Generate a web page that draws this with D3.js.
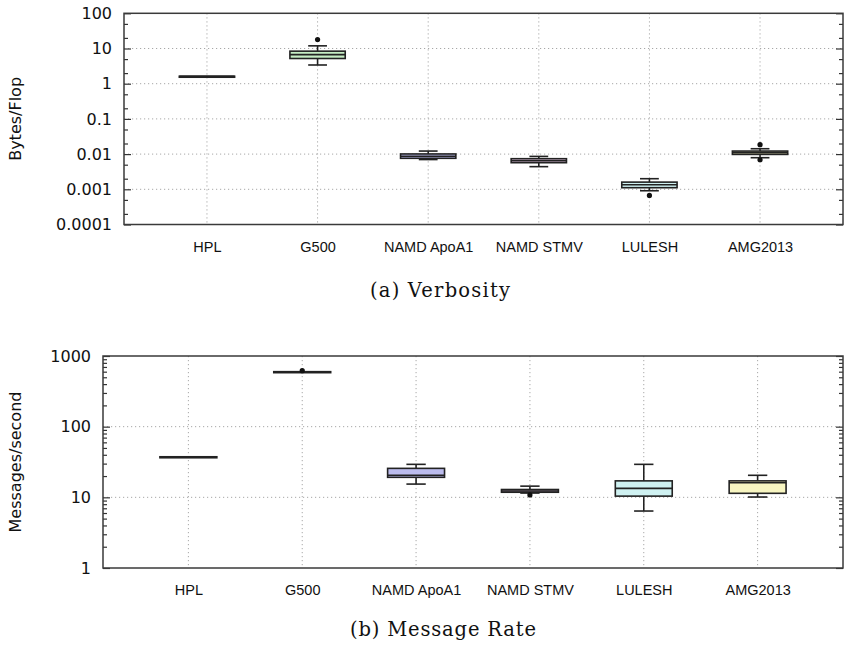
<!DOCTYPE html>
<html lang="en">
<head>
    <meta charset="UTF-8">
    <title>Verbosity and message rate</title>
    <style>
        body { margin: 0; background: #fff; }
        svg { display: block; }
    </style>
</head>
<body>
<div id="chart"></div>
<script src="https://cdn.jsdelivr.net/npm/d3@7"></script>
<script>
    const categories = ["HPL", "G500", "NAMD ApoA1", "NAMD STMV", "LULESH", "AMG2013"];

    // (a) verbosity, bytes per flop
    const verbLow = [1.63, 3.4, 0.0070, 0.0044, 0.00091, 0.0079];
    const verbQ1 = [1.63, 5.2, 0.0076, 0.0057, 0.00111, 0.0098];
    const verbMed = [1.63, 6.7, 0.0087, 0.0065, 0.00135, 0.0110];
    const verbQ3 = [1.63, 8.4, 0.0101, 0.0074, 0.0016, 0.0122];
    const verbHigh = [1.63, 11.9, 0.0122, 0.0086, 0.0020, 0.0142];
    const verbOutliers = [[], [18], [], [], [0.00067], [0.0185, 0.0069]];
    const verbTicks = [0.0001, 0.001, 0.01, 0.1, 1, 10, 100];

    // (b) message rate, messages per second
    const rateLow = [37.5, 600, 15.4, 11.5, 6.4, 10.1];
    const rateQ1 = [37.5, 600, 19.2, 11.8, 10.4, 11.4];
    const rateMed = [37.5, 600, 20.5, 12.3, 13.4, 16.1];
    const rateQ3 = [37.5, 600, 25.7, 12.9, 17.1, 17.1];
    const rateHigh = [37.5, 600, 29.3, 14.4, 29.3, 20.5];
    const rateOutliers = [[], [620], [], [10.8], [], []];
    const rateTicks = [1, 10, 100, 1000];

    const boxColors = ["#ffffff", "#c6edc4", "#bcbcee", "#dfc2df", "#cff1f1", "#f7f5c1"];

    const width = 844, height = 645;

    let svg = d3.select("#chart")
        .append("svg")
        .attr("width", width)
        .attr("height", height)
        .style("background-color", "#fff");

    function panel(p) {
        let x = d3.scaleLinear().domain([0.25, 6.75]).range([p.left, p.right]);
        let y = d3.scaleLog().domain([p.ticks[0], p.ticks[p.ticks.length - 1]]).range([p.bottom, p.top]);
        let g = svg.append("g").classed("panel", true);
        let idx = d3.range(categories.length);

        // minor tick values inside each decade
        let minor = [];
        p.ticks.slice(0, -1).forEach(t => p.minorSteps.forEach(m => minor.push(t * m)));

        // grid
        let grid = g.append("g").classed("grid", true)
            .style("stroke", "#a8a8a8")
            .style("stroke-width", 1)
            .style("stroke-dasharray", "1.2,2.8");
        grid.selectAll("line.h")
            .data(p.ticks.slice(1, -1))
            .join("line")
            .attr("class", "h")
            .attr("x1", p.left).attr("x2", p.right)
            .attr("y1", d => y(d)).attr("y2", d => y(d));
        grid.selectAll("line.v")
            .data(idx)
            .join("line")
            .attr("class", "v")
            .attr("x1", i => x(i + 1)).attr("x2", i => x(i + 1))
            .attr("y1", p.top).attr("y2", p.bottom);

        // axes: major and minor ticks on left and right, pointing inward
        let font = "'DejaVu Sans', sans-serif";
        let left = g.append("g")
            .attr("transform", `translate(${p.left},0)`)
            .call(d3.axisLeft(y).tickValues(p.ticks).tickFormat(d3.format("~g")).tickSize(-7).tickPadding(12));
        left.selectAll("text").style("font-family", font).style("font-size", "16px").style("fill", "#111");
        g.append("g")
            .attr("transform", `translate(${p.left},0)`)
            .call(d3.axisLeft(y).tickValues(minor).tickFormat("").tickSize(-4));
        g.append("g")
            .attr("transform", `translate(${p.right},0)`)
            .call(d3.axisRight(y).tickValues(p.ticks).tickFormat("").tickSize(-7));
        g.append("g")
            .attr("transform", `translate(${p.right},0)`)
            .call(d3.axisRight(y).tickValues(minor).tickFormat("").tickSize(-4));

        let bottom = g.append("g")
            .attr("transform", `translate(0,${p.bottom})`)
            .call(d3.axisBottom(x).tickValues(d3.range(1, 7)).tickFormat(i => categories[i - 1]).tickSize(0).tickPadding(17));
        bottom.selectAll("text")
            .style("font-family", "'Liberation Sans', Arial, sans-serif")
            .style("font-size", "14.5px")
            .style("fill", "#111");
        g.selectAll(".domain").remove();
        g.selectAll(".tick line").style("stroke", "#333").style("stroke-width", 1.2);

        // y axis title
        g.append("text")
            .attr("transform", `translate(${p.titleX},${(p.top + p.bottom) / 2}) rotate(-90)`)
            .attr("text-anchor", "middle")
            .style("font-family", font)
            .style("font-size", "16px")
            .style("fill", "#111")
            .text(p.title);

        // boxes, whiskers and outliers, one group per category index
        let half = 0.25, cap = 0.085;
        let boxes = g.append("g").classed("boxes", true)
            .selectAll("g")
            .data(idx)
            .join("g");

        let upper = boxes.filter(i => p.high[i] > p.q3[i]);
        let lower = boxes.filter(i => p.low[i] < p.q1[i]);
        upper.append("line")
            .attr("x1", i => x(i + 1)).attr("x2", i => x(i + 1))
            .attr("y1", i => y(p.q3[i])).attr("y2", i => y(p.high[i]));
        upper.append("line")
            .attr("x1", i => x(i + 1 - cap)).attr("x2", i => x(i + 1 + cap))
            .attr("y1", i => y(p.high[i])).attr("y2", i => y(p.high[i]));
        lower.append("line")
            .attr("x1", i => x(i + 1)).attr("x2", i => x(i + 1))
            .attr("y1", i => y(p.q1[i])).attr("y2", i => y(p.low[i]));
        lower.append("line")
            .attr("x1", i => x(i + 1 - cap)).attr("x2", i => x(i + 1 + cap))
            .attr("y1", i => y(p.low[i])).attr("y2", i => y(p.low[i]));

        boxes.append("rect")
            .attr("x", i => x(i + 1 - half))
            .attr("width", i => x(i + 1 + half) - x(i + 1 - half))
            .attr("y", i => y(p.q3[i]))
            .attr("height", i => Math.max(1, y(p.q1[i]) - y(p.q3[i])))
            .style("fill", i => boxColors[i]);
        boxes.append("line")
            .attr("x1", i => x(i + 1 - half)).attr("x2", i => x(i + 1 + half))
            .attr("y1", i => y(p.med[i])).attr("y2", i => y(p.med[i]));
        boxes.selectAll("line, rect")
            .style("stroke", "#222")
            .style("stroke-width", 1.6);

        boxes.selectAll("circle")
            .data(i => p.outliers[i].map(v => ({i: i, v: v})))
            .join("circle")
            .attr("cx", d => x(d.i + 1))
            .attr("cy", d => y(d.v))
            .attr("r", 2.6)
            .style("fill", "#111");

        // frame
        g.append("rect")
            .attr("x", p.left).attr("y", p.top)
            .attr("width", p.right - p.left).attr("height", p.bottom - p.top)
            .style("fill", "none")
            .style("stroke", "#3a3a3a")
            .style("stroke-width", 1.5);

        // caption
        svg.append("text")
            .attr("x", p.captionX)
            .attr("y", p.captionY)
            .attr("text-anchor", "middle")
            .attr("textLength", p.captionW)
            .attr("lengthAdjust", "spacing")
            .style("font-family", "'DejaVu Serif', serif")
            .style("font-size", "19.5px")
            .style("fill", "#111")
            .text(p.caption);
    }

    panel({
        left: 124, right: 843, top: 13.3, bottom: 224.5,
        ticks: verbTicks, minorSteps: [2, 5],
        low: verbLow, q1: verbQ1, med: verbMed, q3: verbQ3, high: verbHigh, outliers: verbOutliers,
        title: "Bytes/Flop", titleX: 21,
        caption: "(a) Verbosity", captionX: 440, captionY: 297, captionW: 140
    });

    panel({
        left: 103, right: 843, top: 356, bottom: 568,
        ticks: rateTicks, minorSteps: [2, 3, 4, 5, 6, 7, 8, 9],
        low: rateLow, q1: rateQ1, med: rateMed, q3: rateQ3, high: rateHigh, outliers: rateOutliers,
        title: "Messages/second", titleX: 20.5,
        caption: "(b) Message Rate", captionX: 443, captionY: 636, captionW: 186
    });
</script>
</body>
</html>
